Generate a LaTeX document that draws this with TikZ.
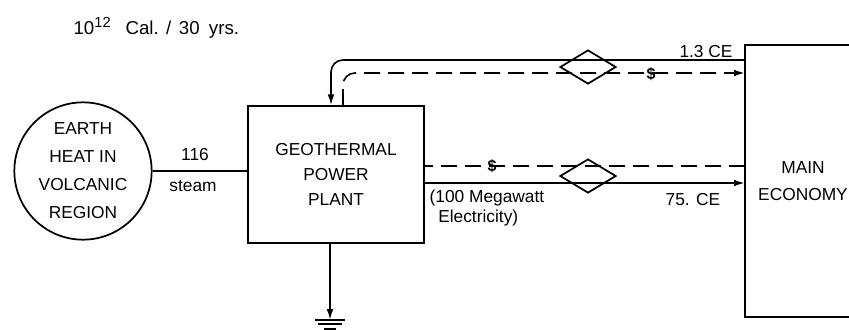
\documentclass[tikz,border=0pt]{standalone}
\usepackage{fontspec}
\setmainfont{Liberation Sans}
\usetikzlibrary{shapes.geometric, arrows.meta, positioning, calc}

\begin{document}
\begin{tikzpicture}[x=0.75pt, y=-0.75pt,
  src/.style={circle, draw, line width=1.3pt, minimum size=103pt, inner sep=0pt, align=center, font=\fontsize{13}{21}\selectfont},
  box/.style={rectangle, draw, line width=1.3pt, minimum width=132pt, minimum height=102.75pt, align=center, font=\fontsize{13}{19}\selectfont},
  econ/.style={rectangle, minimum width=87pt, minimum height=204pt, align=center, font=\fontsize{13}{20}\selectfont},
  xchg/.style={diamond, draw, line width=1.3pt, minimum width=42pt, minimum height=25.5pt, inner sep=0pt},
  lbl/.style={font=\fontsize{13}{15}\selectfont, inner sep=1pt},
  dol/.style={font=\fontsize{12}{14}\selectfont\bfseries, inner sep=0pt},
  wall/.style={line width=1.3pt},
  flow/.style={line width=1.2pt},
  arr/.style={-{Latex[length=8pt, width=5pt]}, line width=1.2pt},
  cash/.style={line width=1.2pt, dash pattern=on 12pt off 6pt}
]
\useasboundingbox (0,0) rectangle (849,329);
\node[src] (earth) at (83,171) {EARTH\\HEAT IN\\VOLCANIC\\REGION};
\node[box] (plant) at (336,174.5) {GEOTHERMAL\\POWER\\PLANT};
\node[econ] (main) at (803,181) {MAIN\\ECONOMY};
\draw[wall] ([xshift=78pt]main.north west) -- (main.north west) -- (main.south west) -- ([xshift=78pt]main.south west);
\node[xchg] (sellFuel) at (588,67) {};
\node[xchg] (sellPower) at (588,176) {};
% Ports
\coordinate (fuelIn) at ($(plant.north)+(-5,0)$);
\coordinate (payOut) at ($(plant.north)+(7,0)$);
\coordinate (powerOut) at ($(plant.east)+(0,8.5)$);
\coordinate (payIn) at ($(plant.east)+(0,-8.5)$);
\coordinate (fuelRow) at (0,60);
\coordinate (payRow) at (0,73);
\coordinate (sink) at ($(plant.south)+(-6,76)$);
% Flows
\draw[flow] (earth.east) -- (earth.east -| plant.west);
\draw[arr, rounded corners=9pt] (main.west |- fuelRow) -| (fuelIn);
\draw[cash, -{Latex[length=8pt, width=5pt]}, rounded corners=9pt] (payOut) |- (main.west |- payRow);
\draw[arr] (powerOut) -- (powerOut -| main.west);
\draw[cash] (main.west |- payIn) -- (payIn);
\draw[arr] (plant.south -| sink) -- (sink);
\draw[flow] ($(sink)+(-15,0)$) -- ++(30,0);
\draw[flow] ($(sink)+(-12,4)$) -- ++(24,0);
\draw[flow] ($(sink)+(-6,9)$) -- ++(12,0);
% Labels
\node[lbl, anchor=west, font=\fontsize{14}{16}\selectfont] (title) at (72,28) {10\raisebox{5pt}{\fontsize{11}{12}\selectfont 12}\hspace{0.8em}Cal.\hspace{0.4em}/\hspace{0.4em}30\hspace{0.5em}yrs.};
\node[lbl] (rate) at (195,155) {116};
\node[lbl] (steam) at (193,186) {steam};
\node[lbl] (fuelAmt) at (706,52) {1.3 CE};
\node[lbl] (powerAmt) at (693,200) {75. CE};
\node[lbl, anchor=west, align=left, font=\fontsize{13}{15}\selectfont] (mw) at (428,208) {(100 Megawatt\\\hspace{0.5em}Electricity)};
\node[dol] (d1) at (651,74) {\$};
\node[dol] (d2) at (492,166) {\$};
\end{tikzpicture}
\end{document}
